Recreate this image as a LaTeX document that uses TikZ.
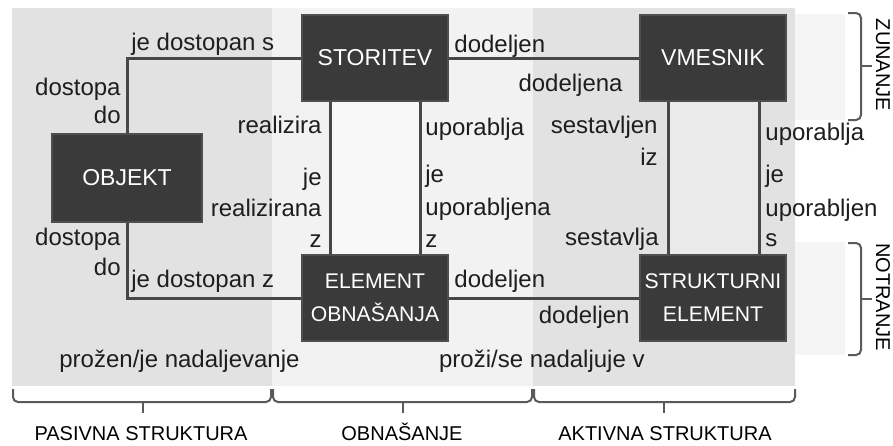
\documentclass[tikz,border=0pt]{standalone}
\usepackage{fontspec}
\setmainfont{Liberation Sans}
\definecolor{bandgray}{HTML}{E2E2E2}
\definecolor{midgray}{HTML}{F2F2F2}
\definecolor{innerlight}{HTML}{F8F8F8}
\definecolor{innergray}{HTML}{EAEAEA}
\definecolor{sidegray}{HTML}{F5F5F5}
\definecolor{boxgray}{HTML}{3A3A3A}
\definecolor{boxedge}{HTML}{4E4E4E}
\definecolor{linecol}{HTML}{474747}
\definecolor{labcol}{HTML}{1E1E1E}
\definecolor{brkcol}{HTML}{5A5A5A}
\begin{document}
\begin{tikzpicture}[x=0.5pt,y=-0.5pt,
  box/.style={fill=boxgray, draw=boxedge, line width=1pt, text=white,
    minimum width=73pt, minimum height=43pt, align=center, inner sep=0pt,
    font=\fontsize{11.5}{16.5}\selectfont},
  boxtwo/.style={box, font=\fontsize{10.6}{16.5}\selectfont},
  lab/.style={text=labcol, font=\fontsize{12}{15}\selectfont, inner sep=0pt},
  lw/.style={lab, anchor=base west},
  le/.style={lab, anchor=base east},
  conn/.style={draw=linecol, line width=1.5pt},
  brk/.style={draw=brkcol, line width=1pt, rounded corners=2.5pt},
  capt/.style={text=black, font=\fontsize{10}{12}\selectfont, inner sep=0pt}]
\useasboundingbox (0,0) rectangle (893,445);
\fill[white] (0,0) rectangle (893,445);
% background bands
\fill[bandgray] (12,8) rectangle (272,386);
\fill[midgray] (272,8) rectangle (533,386);
\fill[bandgray] (533,8) rectangle (795,386);
\fill[innerlight] (330,100) rectangle (420,256);
\fill[innergray] (668,100) rectangle (759,256);
\fill[sidegray] (795,14) rectangle (845,120);
\fill[sidegray] (795,242) rectangle (845,355);
% nodes
\node[box] (stor) at (375,58) {STORITEV};
\node[box] (vmes) at (713,58) {VMESNIK};
\node[box, minimum width=75pt, minimum height=44pt] (obj) at (127,178) {OBJEKT};
\node[boxtwo] (elem) at (375,298) {ELEMENT\\OBNAŠANJA};
\node[boxtwo] (strk) at (713,298) {STRUKTURNI\\ELEMENT};
% connectors
\draw[conn] (obj.north) |- (stor.west);
\draw[conn] (obj.south) |- (elem.west);
\draw[conn] (stor.east) -- (vmes.west);
\draw[conn] (elem.east) -- (strk.west);
\draw[conn] ([xshift=-22.5pt]stor.south) -- ([xshift=-22.5pt]elem.north);
\draw[conn] ([xshift=22.5pt]stor.south) -- ([xshift=22.5pt]elem.north);
\draw[conn] ([xshift=-22.5pt]vmes.south) -- ([xshift=-22.5pt]strk.north);
\draw[conn] ([xshift=23pt]vmes.south) -- ([xshift=23pt]strk.north);
% labels
\node[lw] (l1) at (131,50) {je dostopan s};
\node[le] (l2) at (121,95) {dostopa};
\node[le] (l3) at (121,123) {do};
\node[le] (l4) at (322,133) {realizira};
\node[le] (l5) at (322,185) {je};
\node[le] (l6) at (322,216) {realizirana};
\node[le] (l7) at (322,247) {z};
\node[lw] (l8) at (425,135) {uporablja};
\node[lw] (l9) at (425,182) {je};
\node[lw] (l10) at (425,215) {uporabljena};
\node[lw] (l11) at (425,247) {z};
\node[lw] (l12) at (454,52) {dodeljen};
\node[le] (l13) at (623,91) {dodeljena};
\node[le] (l14) at (658,133) {sestavljen};
\node[le] (l15) at (658,165) {iz};
\node[le] (l16) at (659,245) {sestavlja};
\node[lw] (l17) at (765,140) {uporablja};
\node[lw] (l18) at (765,182) {je};
\node[lw] (l19) at (765,216) {uporabljen};
\node[lw] (l20) at (765,246) {s};
\node[le] (l21) at (121,245) {dostopa};
\node[le] (l22) at (121,275) {do};
\node[lw] (l23) at (131,287) {je dostopan z};
\node[lw] (l24) at (454,287) {dodeljen};
\node[le] (l25) at (630,323) {dodeljen};
\node[lw] (l26) at (59,367) {prožen/je nadaljevanje};
\node[le] (l27) at (645,367) {proži/se nadaljuje v};
% bottom brackets
\draw[brk] (13,389) -- (13,402) -- (271,402) -- (271,389);
\draw[brk] (143,402) -- (143,413);
\draw[brk] (273,389) -- (273,402) -- (532,402) -- (532,389);
\draw[brk] (403,402) -- (403,413);
\draw[brk] (534,389) -- (534,402) -- (795,402) -- (795,389);
\draw[brk] (664,402) -- (664,413);
\node[capt, anchor=base] (c1) at (141,440) {PASIVNA STRUKTURA};
\node[capt, anchor=base] (c2) at (402,440) {OBNAŠANJE};
\node[capt, anchor=base] (c3) at (665,440) {AKTIVNA STRUKTURA};
% right brackets
\draw[brk] (848,13) -- (861,13) -- (861,120) -- (848,120);
\draw[brk] (861,66) -- (872,66);
\draw[brk] (848,243) -- (861,243) -- (861,355) -- (848,355);
\draw[brk] (861,299) -- (872,299);
\node[capt, rotate=-90] (c4) at (883,65) {ZUNANJE};
\node[capt, rotate=-90] (c5) at (883,297) {NOTRANJE};
\end{tikzpicture}
\end{document}
